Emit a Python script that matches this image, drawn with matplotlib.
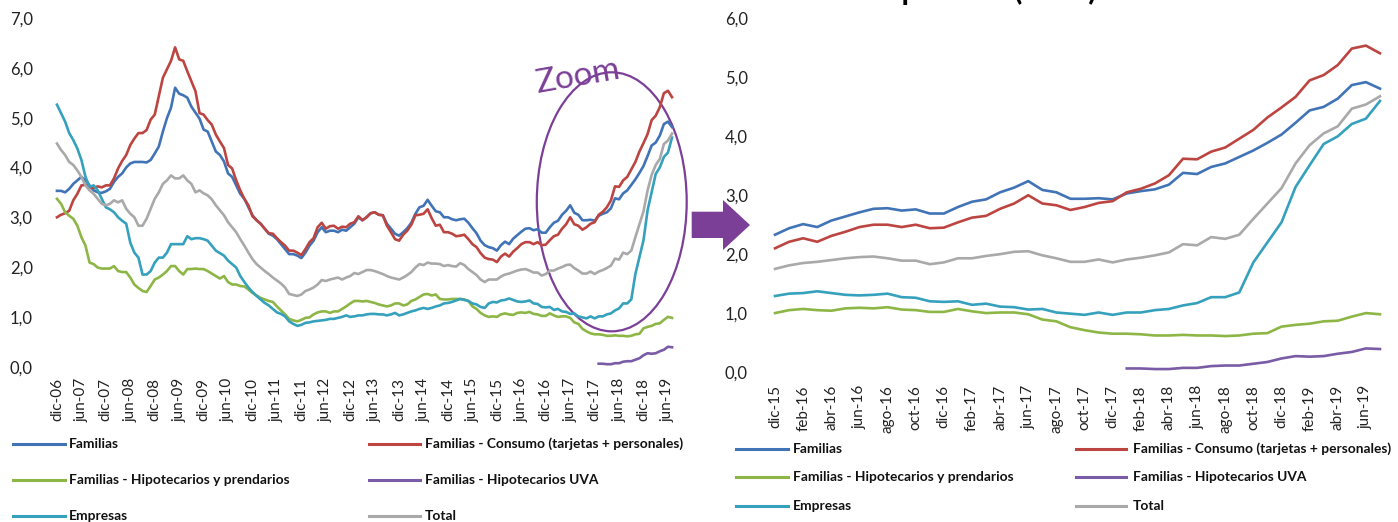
import numpy as np
import matplotlib.pyplot as plt
from matplotlib.patches import Ellipse, Polygon
from matplotlib.lines import Line2D
from matplotlib.ticker import FuncFormatter

plt.rcParams['font.family'] = ['Lato', 'DejaVu Sans']

# ---- data: monthly, dic-06 .. nov-15 (history, left chart only) ----
hist_familias = [3.53, 3.53, 3.50, 3.57, 3.67, 3.74, 3.81, 3.74, 3.64, 3.54, 3.50, 3.49,
                 3.52, 3.57, 3.71, 3.81, 3.88, 4.00, 4.08, 4.11, 4.11, 4.11, 4.10, 4.15,
                 4.28, 4.42, 4.72, 4.99, 5.20, 5.60, 5.48, 5.45, 5.40, 5.22, 5.10, 4.98,
                 4.76, 4.72, 4.52, 4.32, 4.25, 4.12, 3.88, 3.81, 3.64, 3.47, 3.37, 3.20,
                 3.04, 2.94, 2.87, 2.77, 2.67, 2.63, 2.56, 2.46, 2.36, 2.26, 2.26, 2.23,
                 2.18, 2.29, 2.43, 2.53, 2.70, 2.80, 2.70, 2.73, 2.73, 2.70, 2.75, 2.73,
                 2.80, 2.87, 3.00, 2.94, 3.00, 3.08, 3.10, 3.05, 3.04, 2.87, 2.77, 2.67,
                 2.63, 2.70, 2.78, 2.89, 3.07, 3.20, 3.23, 3.35, 3.23, 3.12, 3.10, 3.00,
                 3.00, 2.96, 2.94, 2.96, 2.97, 2.89, 2.78, 2.68, 2.53, 2.44, 2.40, 2.38]
hist_consumo = [3.00, 3.05, 3.08, 3.13, 3.34, 3.47, 3.64, 3.65, 3.60, 3.59, 3.62, 3.60,
                3.64, 3.64, 3.78, 3.98, 4.13, 4.25, 4.45, 4.58, 4.69, 4.69, 4.75, 4.96,
                5.06, 5.43, 5.80, 5.97, 6.14, 6.41, 6.17, 6.14, 5.93, 5.73, 5.53, 5.09,
                5.06, 4.95, 4.86, 4.66, 4.52, 4.39, 4.05, 3.98, 3.74, 3.54, 3.37, 3.24,
                3.02, 2.94, 2.87, 2.77, 2.68, 2.67, 2.58, 2.50, 2.43, 2.33, 2.33, 2.29,
                2.24, 2.36, 2.50, 2.58, 2.80, 2.89, 2.77, 2.82, 2.83, 2.77, 2.81, 2.80,
                2.87, 2.90, 3.02, 2.94, 3.00, 3.08, 3.10, 3.05, 3.04, 2.83, 2.70, 2.56,
                2.53, 2.65, 2.73, 2.85, 3.04, 3.05, 3.07, 3.16, 2.98, 2.83, 2.85, 2.70,
                2.70, 2.67, 2.62, 2.63, 2.65, 2.56, 2.46, 2.40, 2.28, 2.19, 2.16, 2.15]
hist_hipotecarios = [3.37, 3.27, 3.10, 3.03, 2.97, 2.83, 2.60, 2.43, 2.09, 2.06, 1.99, 1.97,
                     1.97, 1.97, 2.02, 1.92, 1.90, 1.90, 1.79, 1.65, 1.58, 1.52, 1.50, 1.62,
                     1.75, 1.79, 1.85, 1.92, 2.02, 2.02, 1.92, 1.85, 1.96, 1.96, 1.97, 1.96,
                     1.96, 1.92, 1.87, 1.82, 1.77, 1.82, 1.70, 1.65, 1.65, 1.62, 1.61, 1.55,
                     1.48, 1.43, 1.38, 1.35, 1.32, 1.30, 1.21, 1.13, 1.05, 0.96, 0.93, 0.91,
                     0.94, 0.98, 0.99, 1.05, 1.09, 1.11, 1.11, 1.08, 1.11, 1.11, 1.16, 1.21,
                     1.27, 1.32, 1.32, 1.31, 1.32, 1.30, 1.28, 1.25, 1.23, 1.21, 1.23, 1.27,
                     1.27, 1.23, 1.25, 1.32, 1.35, 1.40, 1.45, 1.46, 1.43, 1.45, 1.36, 1.35,
                     1.35, 1.36, 1.36, 1.36, 1.35, 1.32, 1.21, 1.16, 1.08, 1.03, 1.00, 1.01]
hist_empresas = [5.26, 5.09, 4.92, 4.69, 4.55, 4.38, 4.15, 3.81, 3.61, 3.64, 3.54, 3.37,
                 3.20, 3.16, 3.10, 3.00, 2.93, 2.87, 2.49, 2.29, 2.19, 1.85, 1.85, 1.92,
                 2.09, 2.19, 2.19, 2.29, 2.46, 2.46, 2.46, 2.46, 2.62, 2.56, 2.58, 2.58,
                 2.56, 2.53, 2.43, 2.33, 2.28, 2.23, 2.13, 2.06, 1.99, 1.82, 1.70, 1.59,
                 1.50, 1.42, 1.35, 1.28, 1.23, 1.16, 1.09, 1.06, 1.01, 0.91, 0.86, 0.82,
                 0.84, 0.88, 0.89, 0.91, 0.92, 0.93, 0.94, 0.96, 0.96, 0.98, 1.00, 1.03,
                 1.00, 1.01, 1.03, 1.03, 1.05, 1.06, 1.06, 1.05, 1.05, 1.03, 1.05, 1.08,
                 1.03, 1.05, 1.08, 1.11, 1.13, 1.16, 1.18, 1.16, 1.18, 1.21, 1.23, 1.27,
                 1.28, 1.30, 1.33, 1.36, 1.34, 1.32, 1.27, 1.25, 1.20, 1.18, 1.27, 1.30]
hist_total = [4.48, 4.35, 4.25, 4.11, 4.05, 3.94, 3.81, 3.64, 3.54, 3.47, 3.37, 3.27,
              3.24, 3.27, 3.34, 3.30, 3.34, 3.17, 3.07, 3.00, 2.83, 2.83, 2.97, 3.17,
              3.37, 3.50, 3.67, 3.74, 3.84, 3.78, 3.78, 3.84, 3.74, 3.67, 3.50, 3.54,
              3.48, 3.44, 3.36, 3.24, 3.14, 3.04, 2.90, 2.80, 2.70, 2.56, 2.43, 2.29,
              2.16, 2.06, 1.99, 1.92, 1.86, 1.79, 1.73, 1.67, 1.59, 1.46, 1.44, 1.42,
              1.45, 1.52, 1.55, 1.59, 1.65, 1.74, 1.72, 1.75, 1.77, 1.79, 1.75, 1.79,
              1.82, 1.88, 1.86, 1.90, 1.94, 1.94, 1.92, 1.89, 1.86, 1.82, 1.79, 1.77,
              1.75, 1.79, 1.84, 1.90, 1.99, 2.06, 2.04, 2.09, 2.07, 2.07, 2.06, 2.02,
              2.04, 2.02, 2.01, 2.08, 2.04, 1.96, 1.90, 1.84, 1.75, 1.70, 1.75, 1.75]

# ---- data: monthly, dic-15 .. jul-19 (zoom, both charts) ----
zoom_familias = [2.33, 2.44, 2.51, 2.46, 2.57, 2.64, 2.71, 2.77, 2.78, 2.74, 2.76, 2.69,
                 2.69, 2.80, 2.89, 2.93, 3.05, 3.13, 3.24, 3.09, 3.05, 2.94, 2.94, 2.95,
                 2.93, 3.03, 3.07, 3.10, 3.18, 3.38, 3.36, 3.48, 3.54, 3.65, 3.76, 3.89,
                 4.03, 4.23, 4.44, 4.50, 4.64, 4.87, 4.92, 4.81]
zoom_consumo = [2.10, 2.21, 2.27, 2.21, 2.31, 2.38, 2.46, 2.50, 2.50, 2.46, 2.50, 2.44,
                2.45, 2.54, 2.62, 2.65, 2.77, 2.86, 3.00, 2.86, 2.83, 2.75, 2.80, 2.87,
                2.90, 3.05, 3.11, 3.20, 3.34, 3.62, 3.61, 3.74, 3.81, 3.96, 4.11, 4.32,
                4.49, 4.67, 4.95, 5.04, 5.21, 5.49, 5.54, 5.41]
zoom_hipotecarios = [1.00, 1.05, 1.07, 1.05, 1.04, 1.08, 1.09, 1.08, 1.10, 1.06, 1.05, 1.02,
                     1.02, 1.07, 1.03, 1.00, 1.01, 1.01, 0.98, 0.89, 0.86, 0.76, 0.71, 0.67,
                     0.65, 0.65, 0.64, 0.62, 0.62, 0.63, 0.62, 0.62, 0.61, 0.62, 0.65, 0.66,
                     0.77, 0.80, 0.82, 0.86, 0.87, 0.94, 1.00, 0.98]
zoom_empresas = [1.29, 1.33, 1.34, 1.37, 1.34, 1.31, 1.30, 1.31, 1.33, 1.27, 1.26, 1.20,
                 1.19, 1.20, 1.14, 1.16, 1.11, 1.10, 1.06, 1.07, 1.01, 0.99, 0.97, 1.01,
                 0.97, 1.01, 1.01, 1.05, 1.07, 1.13, 1.17, 1.27, 1.27, 1.35, 1.86, 2.20,
                 2.54, 3.14, 3.51, 3.87, 4.00, 4.21, 4.30, 4.60]
zoom_total = [1.75, 1.81, 1.85, 1.87, 1.90, 1.93, 1.95, 1.96, 1.93, 1.89, 1.89, 1.83,
              1.86, 1.93, 1.93, 1.97, 2.00, 2.04, 2.05, 1.98, 1.93, 1.87, 1.87, 1.91,
              1.86, 1.91, 1.94, 1.98, 2.03, 2.17, 2.15, 2.29, 2.26, 2.33, 2.60, 2.86,
              3.12, 3.54, 3.85, 4.05, 4.17, 4.47, 4.54, 4.68]
# Hipotecarios UVA: from ene-18 (month 25 of the zoom period)
uva_start = 25
uva_values = [0.06, 0.06, 0.05, 0.05, 0.07, 0.07, 0.10, 0.11, 0.11, 0.14,
              0.17, 0.23, 0.27, 0.26, 0.27, 0.31, 0.34, 0.40, 0.39]

left_ticks = ["dic-06", "jun-07", "dic-07", "jun-08", "dic-08", "jun-09", "dic-09",
              "jun-10", "dic-10", "jun-11", "dic-11", "jun-12", "dic-12", "jun-13",
              "dic-13", "jun-14", "dic-14", "jun-15", "dic-15", "jun-16", "dic-16",
              "jun-17", "dic-17", "jun-18", "dic-18", "jun-19"]
right_ticks = ["dic-15", "feb-16", "abr-16", "jun-16", "ago-16", "oct-16", "dic-16",
               "feb-17", "abr-17", "jun-17", "ago-17", "oct-17", "dic-17", "feb-18",
               "abr-18", "jun-18", "ago-18", "oct-18", "dic-18", "feb-19", "abr-19",
               "jun-19"]

names = ["Familias", "Familias - Consumo (tarjetas + personales)",
         "Familias - Hipotecarios y prendarios", "Familias - Hipotecarios UVA",
         "Empresas", "Total"]
colors = ["#4174B6", "#BC4541", "#8DB646", "#7A5BA5", "#35A1BD", "#A9A9A9"]
purple = "#7B3F97"

W, H = 1398, 522
fig = plt.figure(figsize=(W / 100, H / 100), dpi=100)


def px_axes(left, top, right, bottom):
    return fig.add_axes([left / W, 1 - bottom / H, (right - left) / W, (bottom - top) / H])


comma = FuncFormatter(lambda v, p: f"{v:.1f}".replace(".", ","))

ax1 = px_axes(52.9, 18, 676.1, 366.7)
ax2 = px_axes(768, 18.5, 1387, 372)

hist = [hist_familias, hist_consumo, hist_hipotecarios, None, hist_empresas, hist_total]
zoom = [zoom_familias, zoom_consumo, zoom_hipotecarios, None, zoom_empresas, zoom_total]
n_hist = len(hist_familias)

for i, name in enumerate(names):
    if zoom[i] is None:
        xr = np.arange(uva_start, uva_start + len(uva_values))
        ax2.plot(xr, uva_values, color=colors[i], lw=1.9)
        ax1.plot(xr + n_hist, uva_values, color=colors[i], lw=1.9)
    else:
        full = hist[i] + zoom[i]
        ax1.plot(np.arange(len(full)), full, color=colors[i], lw=1.9)
        ax2.plot(np.arange(len(zoom[i])), zoom[i], color=colors[i], lw=1.9)

ax1.set_xlim(-1, 152)
ax1.set_ylim(0, 7)
ax1.set_xticks(np.arange(len(left_ticks)) * 6)
ax1.set_xticklabels(left_ticks, rotation=90, va="top", ha="center")
ax2.set_xlim(-0.5, 43.5)
ax2.set_ylim(0, 6)
ax2.set_xticks(np.arange(len(right_ticks)) * 2)
ax2.set_xticklabels(right_ticks, rotation=90, va="top", ha="center")

for ax, xpad in ((ax1, 8), (ax2, 9.5)):
    ax.yaxis.set_major_formatter(comma)
    for s in ax.spines.values():
        s.set_visible(False)
    ax.tick_params(axis="y", length=0, pad=14.5, labelsize=12, labelcolor="#222222")
    ax.tick_params(axis="x", length=0, pad=xpad, labelsize=11, labelcolor="#222222")
    ax.set_facecolor("none")

# zoom ellipse and label on the left chart
ax1.add_patch(Ellipse((136.2, 3.31), 36.8, 5.2, fill=False, ec=purple, lw=1.6, clip_on=False))
fig.text(578 / W, 1 - 77 / H, "Zoom", color=purple, fontsize=24, rotation=10,
         ha="center", va="center")

# block arrow between charts
arrow = Polygon([(691.7, 211.7), (723, 211.7), (723, 200), (750, 225), (723, 250),
                 (723, 238), (691.7, 238)], closed=True, fc=purple, ec="none",
                transform=fig.transFigure)
arrow.set_xy([(x / W, 1 - y / H) for x, y in arrow.get_xy()])
fig.add_artist(arrow)

# title of the right chart: only its lowest strokes show at the top edge, as in the source
fig.text(1097 / W, 1.0, "Detalle del período (en %)", fontsize=22, weight="bold",
         ha="right", va="baseline")


def legend(order, rows, x_line, x_text):
    for (idx, y) in zip(order, rows):
        for col, j in enumerate(idx):
            x0, x1 = x_line[col]
            fig.add_artist(Line2D([x0 / W, x1 / W], [1 - y / H, 1 - y / H],
                                  color=colors[j], lw=2.2, transform=fig.transFigure))
            fig.text(x_text[col] / W, 1 - y / H, names[j], fontsize=9.9, weight="bold",
                     ha="left", va="center", color="#111111")


order = [(0, 1), (2, 3), (4, 5)]
legend(order, [444, 480, 516], [(13, 65), (369, 420)], [69, 425])
legend(order, [449, 477, 506], [(736, 788), (1076, 1126)], [793, 1133])

fig.savefig("out.png", dpi=100)
